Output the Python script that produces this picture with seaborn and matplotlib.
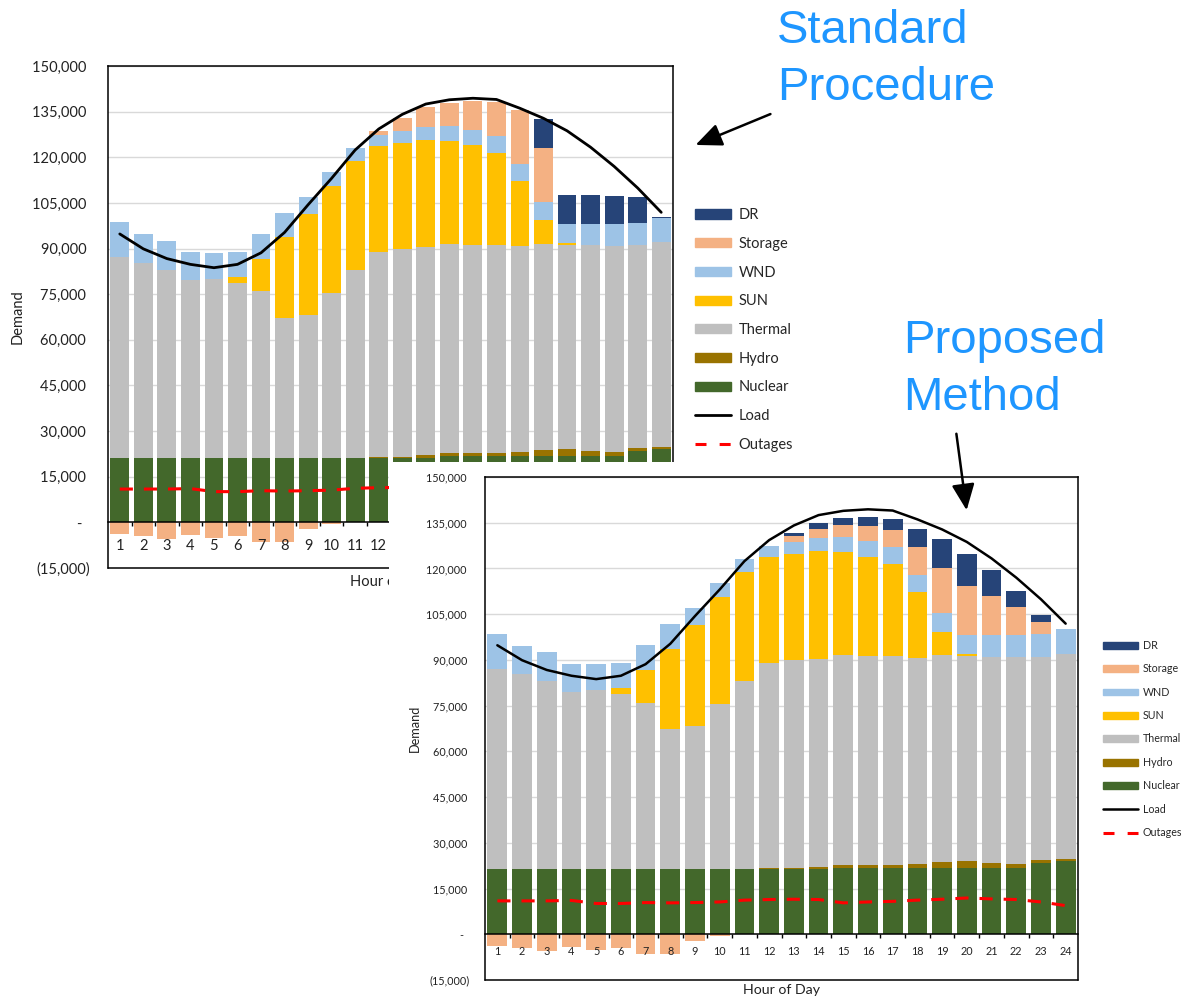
import numpy as np
import matplotlib
matplotlib.use('Agg')
import matplotlib.pyplot as plt
import seaborn as sns
from matplotlib.patches import Patch, Rectangle, FancyArrowPatch
from matplotlib.lines import Line2D
from matplotlib.ticker import FuncFormatter

# ---- data ----
hours = [str(h) for h in range(1, 25)]

nuclear = [21300] * 14 + [21900] * 8 + [23400, 24100]
hydro = [0] * 11 + [300, 300, 900, 900, 900, 900, 1300, 1800, 2100, 1500, 1100, 900, 700]
thermal = [65800, 64000, 61800, 58200, 58800, 57500, 54700, 46000, 46900, 54100, 61800, 67400,
           68400, 68200, 68800, 68500, 68400, 67500, 67800, 67200, 67700, 67800, 66800, 67200]
sun = [0, 0, 0, 0, 0, 1900, 10600, 26400, 33300, 35100, 35700, 34700,
       34600, 35300, 33800, 32600, 30300, 21500, 7800, 700, 0, 0, 0, 0]
wnd = [11500, 9400, 9400, 9300, 8500, 8300, 8200, 8100, 5600, 4600, 4200, 3700,
       4000, 4200, 4900, 5000, 5400, 5700, 6100, 6300, 7000, 7300, 7300, 8000]

storage_std = [-3900, -4400, -5500, -4200, -5000, -4400, -6400, -6600, -2200, -500, 0, 1200,
               4300, 6700, 7600, 9600, 11300, 17800, 17800, 0, 0, 0, 0, 0]
dr_std = [0] * 18 + [9300, 9400, 9500, 9200, 8400, 300]

storage_new = [-3900, -4400, -5500, -4200, -5000, -4400, -6400, -6600, -2200, -500, 0, 0,
               1900, 3000, 4000, 4900, 5800, 9100, 14900, 16200, 13000, 9100, 3900, 0]
dr_new = [0] * 12 + [1100, 2000, 2400, 3100, 3500, 6000, 9400, 10200, 8500, 5500, 2500, 0]

load = [94800, 89900, 86700, 84800, 83700, 84800, 88600, 95300, 104400, 113100, 122400, 129300,
        134100, 137500, 138900, 139400, 139000, 136100, 132800, 128700, 123300, 117000, 109900, 101900]
outages = [10950, 10950, 10950, 11100, 10100, 10100, 10400, 10300, 10400, 10600, 11200, 11400,
           11500, 11400, 10300, 10600, 10800, 11200, 11500, 11900, 11600, 11400, 10600, 9400]

series_names = ['Nuclear', 'Hydro', 'Thermal', 'SUN', 'WND', 'Storage', 'DR']
colors = {'Nuclear': '#43682B', 'Hydro': '#997300', 'Thermal': '#BFBFBF', 'SUN': '#FFC000',
          'WND': '#9DC3E6', 'Storage': '#F4B183', 'DR': '#264478'}

sns.set_theme(style='white')
plt.rcParams['font.family'] = ['Lato', 'DejaVu Sans']

W, H = 1183, 997
fig = plt.figure(figsize=(W / 100, H / 100), dpi=100)


def fx(px):
    return px / W


def fy(py):
    return 1 - py / H


def y_fmt(v, pos):
    if v == 0:
        return '-  '
    if v < 0:
        return f'({abs(v):,.0f})'
    return f'{v:,.0f} '


def draw_panel(ax, storage, dr, fs, lfs, afs, dfs, lw_load, legend_xy, lab_pad, tick_pad,
               xlab_y, ylab_x, hl, lsp, htp):
    layers = {'Nuclear': nuclear, 'Hydro': hydro, 'Thermal': thermal, 'SUN': sun,
              'WND': wnd, 'Storage': storage, 'DR': dr}
    base = np.zeros(len(hours))
    for name in series_names:
        vals = np.array(layers[name], dtype=float)
        bottom = np.where(vals >= 0, base, 0)
        sns.barplot(x=hours, y=vals, bottom=bottom, color=colors[name], saturation=1,
                    width=0.8, errorbar=None, linewidth=0, ax=ax, zorder=2)
        base = base + np.where(vals >= 0, vals, 0)

    pos = np.arange(len(hours))
    sns.lineplot(x=pos, y=load, color='black', lw=lw_load, ax=ax, zorder=4)
    sns.lineplot(x=pos, y=outages, color='#FF0000', lw=2.2, ax=ax, zorder=4)
    ax.lines[-1].set_dashes([4.3, 3.6])

    ax.set_ylim(-15000, 150000)
    ax.set_xlim(-0.5, len(hours) - 0.5)
    yt = np.arange(-15000, 150001, 15000)
    ax.set_yticks(yt)
    ax.yaxis.set_major_formatter(FuncFormatter(y_fmt))
    ax.grid(False)
    for v in yt:
        if v > 0:
            ax.axhline(v, color='#D9D9D9', lw=1, zorder=0.5)
    ax.set_axisbelow(False)
    ax.tick_params(axis='y', length=0, pad=tick_pad, labelsize=fs, colors='#222222')

    ax.spines['bottom'].set_position(('data', 0))
    ax.spines['bottom'].set_zorder(5)
    for sp in ax.spines.values():
        sp.set_color('black')
        sp.set_linewidth(1.1)
    ax.plot([0, 1], [0, 0], transform=ax.transAxes, color='black', lw=1.1, clip_on=False)
    ax.set_xticks(np.arange(0.5, len(hours) - 1, 1), minor=True)
    ax.tick_params(axis='x', which='major', length=0, pad=lab_pad, labelsize=fs, colors='#222222')
    ax.tick_params(axis='x', which='minor', length=3, width=1, direction='out', color='black',
                   bottom=True)
    ax.set_xlabel('')
    ax.set_ylabel('')
    ax.text(0.5, xlab_y, 'Hour of Day', transform=ax.transAxes, ha='center', va='center',
            fontsize=afs, color='#222222')
    ax.text(ylab_x, 0.5, 'Demand', transform=ax.transAxes, ha='center', va='center',
            rotation=90, fontsize=dfs, color='#222222')

    handles = [Patch(color=colors[n], label=n) for n in series_names[::-1]]
    handles.append(Line2D([], [], color='black', lw=lw_load, label='Load'))
    handles.append(Line2D([], [], color='#FF0000', lw=2.2, dashes=[3.6, 4.3], label='Outages'))
    ax.legend(handles=handles, loc='center left', bbox_to_anchor=legend_xy,
              bbox_transform=fig.transFigure, frameon=False, fontsize=lfs,
              borderpad=0, borderaxespad=0, handlelength=hl,
              handleheight=0.6, handletextpad=htp, labelspacing=lsp)


# Standard procedure (behind)
ax1 = fig.add_axes([fx(108), fy(568), fx(673) - fx(108), fy(66) - fy(568)])
ax1.set_zorder(1)
draw_panel(ax1, storage_std, dr_std, 10.5, 10.5, 10.5, 10.5, 2.0, (fx(695), fy(330)),
           12, 13, -0.028, -0.16, 2.5, 1.01, 0.5)

# white card of second chart
fig.add_artist(Rectangle((fx(389), 0), 1 - fx(389), fy(462), transform=fig.transFigure,
                         facecolor='white', edgecolor='none', zorder=2))

# Proposed method (front)
ax2 = fig.add_axes([fx(485), fy(980), fx(1078) - fx(485), fy(477) - fy(980)])
ax2.set_zorder(3)
draw_panel(ax2, storage_new, dr_new, 7.8, 7.7, 10.2, 9.2, 1.8, (fx(1103), fy(739)),
           8.6, 11, -0.02, -0.118, 3.3, 1.16, 0.4)

# annotations
blue = '#1E96FF'
for txt, x, y in [('Standard', 777, 43), ('Procedure', 777, 100),
                  ('Proposed', 903, 353), ('Method', 903, 410)]:
    fig.text(fx(x), fy(y), txt, fontsize=34, color=blue, family='Liberation Sans',
             ha='left', va='baseline', zorder=6)

for (x0, y0), (x1, y1) in [((773, 113), (693, 146)), ((956, 431), (967, 513))]:
    fig.add_artist(FancyArrowPatch((fx(x0), fy(y0)), (fx(x1), fy(y1)), transform=fig.transFigure,
                                   arrowstyle='-|>,head_length=0.8,head_width=0.35',
                                   mutation_scale=20, lw=1.8, color='black', zorder=6))

fig.savefig('out.png', dpi=100)
